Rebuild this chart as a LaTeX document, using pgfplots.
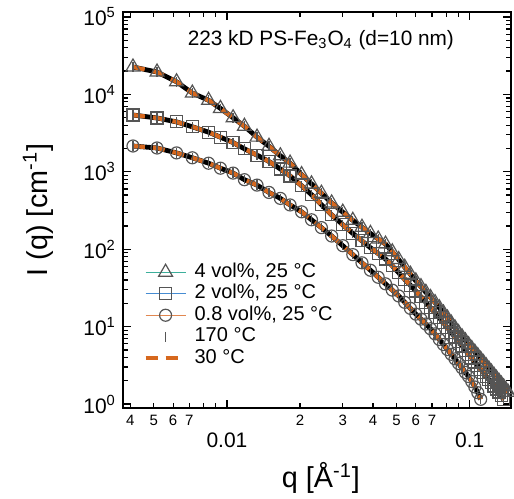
\documentclass[border=0pt]{standalone}
\usepackage{fontspec}
\setmainfont{Liberation Sans}
\usepackage{pgfplots}
\usepackage{pgfplotstable}
\pgfplotsset{compat=1.18}

\definecolor{tealc}{RGB}{60,175,155}
\definecolor{bluec}{RGB}{70,140,210}
\definecolor{orc}{RGB}{225,135,80}
\definecolor{dashc}{RGB}{214,104,30}
\definecolor{mk}{RGB}{85,85,85}

% 4 vol%
\pgfplotstableread{
q I
0.0041 22600
0.00515 19460
0.0062 14550
0.0072 10400
0.0084 8390
0.0094 6590
0.0106 4990
0.0118 3873
0.0133 2806
0.0149 2135
0.0166 1610
0.0182 1295
0.0203 920
0.0223 698
0.0245 529
0.027 396
0.030 301
0.033 236
0.036 192
0.039 160
0.042 135.5
0.045 116.4
0.048 92.5
0.051 73.4
0.054 58.5
0.057 47.5
0.060 38.9
0.063 32.8
0.066 27.7
0.069 23.7
0.072 20.4
0.075 17.5
0.078 15.0
0.081 12.9
0.084 11.1
0.087 9.62
0.090 8.36
0.093 7.38
0.096 6.56
0.099 5.83
0.102 5.21
0.105 4.67
0.108 4.21
0.111 3.79
0.114 3.43
0.117 3.11
0.120 2.83
0.123 2.58
0.126 2.35
0.129 2.15
0.132 1.97
0.135 1.81
0.138 1.67
0.141 1.53
0.144 1.42
}\tabT
% 2 vol%
\pgfplotstableread{
q I
0.0041 5420
0.00515 4955
0.0062 4413
0.0072 3813
0.0084 3250
0.0094 2800
0.0106 2384
0.0118 1983
0.0133 1643
0.0149 1359
0.0166 1087
0.0182 883
0.0203 661
0.0223 507
0.0245 377
0.027 278
0.030 207
0.033 160
0.036 128
0.039 104.5
0.042 87.7
0.045 74.7
0.048 60.9
0.051 49.6
0.054 40.8
0.057 34.2
0.060 28.8
0.063 24.3
0.066 20.6
0.069 17.6
0.072 15.1
0.075 13.0
0.078 11.2
0.081 9.65
0.084 8.39
0.087 7.32
0.090 6.40
0.093 5.63
0.096 4.97
0.099 4.41
0.102 3.92
0.105 3.49
0.108 3.13
0.111 2.81
0.114 2.53
0.117 2.28
0.120 2.07
0.123 1.88
0.126 1.71
0.129 1.56
0.132 1.43
0.135 1.28
0.138 1.14
}\tabS
% 0.8 vol%
\pgfplotstableread{
q I
0.0041 2154
0.00515 2030
0.0062 1754
0.0072 1517
0.0084 1291
0.0094 1113
0.0106 962
0.0118 791
0.0133 673
0.0149 541
0.0166 453
0.0182 373
0.0203 304
0.0223 240
0.0245 190
0.027 148
0.030 111
0.033 85.1
0.036 66.7
0.039 53.5
0.042 43.4
0.045 35.7
0.048 29.6
0.051 24.9
0.054 20.6
0.057 17.2
0.060 14.5
0.063 12.5
0.066 10.8
0.069 9.37
0.072 8.05
0.075 6.83
0.078 5.87
0.081 5.06
0.084 4.39
0.087 3.83
0.090 3.34
0.093 2.93
0.096 2.56
0.099 2.26
0.102 1.95
0.105 1.66
0.108 1.40
0.111 1.15
}\tabC

\begin{document}
\begin{tikzpicture}
\begin{axis}[
  name=ax,
  scale only axis,
  width=194pt, height=198pt,
  xmode=log, ymode=log,
  xmin=0.00373, xmax=0.148,
  ymin=0.888, ymax=116000,
  axis line style={line width=0.7pt},
  every tick/.style={line width=0.6pt, black},
  major tick length=4pt, minor tick length=2.3pt,
  tick align=inside,
  xtick={0.01,0.1},
  xticklabels={0.01,0.1},
  xticklabel style={font=\fontsize{10.5}{12}\selectfont, yshift=-9pt},
  minor xtick={0.004,0.005,0.006,0.007,0.008,0.009,0.02,0.03,0.04,0.05,0.06,0.07,0.08,0.09},
  extra x ticks={0.004,0.005,0.006,0.007,0.02,0.03,0.04,0.05,0.06,0.07},
  extra x tick labels={4,5,6,7,2,3,4,5,6,7},
  extra x tick style={major tick length=2.3pt, xticklabel style={font=\fontsize{7.5}{9}\selectfont, yshift=9pt}},
  ytick={1,10,100,1000,10000,100000},
  yticklabels={10\textsuperscript{0},10\textsuperscript{1},10\textsuperscript{2},10\textsuperscript{3},10\textsuperscript{4},10\textsuperscript{5}},
  yticklabel style={font=\fontsize{10.5}{12}\selectfont},
  minor ytick={2,3,4,5,6,7,8,9,20,30,40,50,60,70,80,90,200,300,400,500,600,700,800,900,2000,3000,4000,5000,6000,7000,8000,9000,20000,30000,40000,50000,60000,70000,80000,90000},
  xlabel={q [Å\textsuperscript{-1}]},
  ylabel={I (q) [cm\textsuperscript{-1}]},
  xlabel style={font=\fontsize{14.4}{17}\selectfont, at={(axis description cs:0.51,-0.177)}, anchor=center},
  ylabel style={font=\fontsize{14.4}{17}\selectfont, at={(axis description cs:-0.219,0.5)}, anchor=center},
  legend cell align=left,
  legend style={draw=none, fill=none, at={(axis description cs:0.052,0.371)}, anchor=north west,
    font=\fontsize{10}{12}\selectfont, inner sep=0pt, row sep=0pt, column sep=3pt,
    nodes={inner sep=0.5pt, text height=7.5pt, text depth=2.25pt}},
]
% 25 C markers
\addplot[tealc, line width=0.7pt, mark=triangle, mark size=4pt, mark options={draw=mk, fill=white, line width=0.6pt},
  legend image code/.code={\draw[tealc, line width=0.7pt] (0cm,0cm) -- (0.7cm,0cm);
    \draw[mk, fill=white, line width=0.6pt] plot[mark=triangle, mark size=4pt] coordinates {(0.35cm,0cm)};}] table[x=q,y=I] {\tabT};
\addlegendentry{4 vol\%, 25 °C}
\addplot[bluec, line width=0.7pt, mark=square, mark size=3pt, mark options={draw=mk, fill=white, line width=0.6pt},
  legend image code/.code={\draw[bluec, line width=0.7pt] (0cm,0cm) -- (0.7cm,0cm);
    \draw[mk, fill=white, line width=0.6pt] plot[mark=square, mark size=3pt] coordinates {(0.35cm,0cm)};}] table[x=q,y=I] {\tabS};
\addlegendentry{2 vol\%, 25 °C}
\addplot[orc, line width=0.7pt, mark=o, mark size=3pt, mark options={draw=mk, fill=white, line width=0.6pt},
  legend image code/.code={\draw[orc, line width=0.7pt] (0cm,0cm) -- (0.7cm,0cm);
    \draw[mk, fill=white, line width=0.6pt] plot[mark=o, mark size=3pt] coordinates {(0.35cm,0cm)};}] table[x=q,y=I] {\tabC};
\addlegendentry{0.8 vol\%, 25 °C}
% 170 C
\addplot[black, line width=2.4pt, forget plot] table[x=q,y=I] {\tabT};
\addplot[black, line width=2.4pt, forget plot] table[x=q,y=I] {\tabS};
\addplot[black, line width=2.4pt, forget plot] table[x=q,y=I] {\tabC};
\addplot[only marks, mark=|, mark size=2.4pt, mark options={draw=mk, line width=0.6pt},
  legend image code/.code={\draw[mk, line width=0.6pt] plot[mark=|, mark size=2.4pt] coordinates {(0.35cm,0cm)};}] table[x=q,y=I] {\tabT};
\addlegendentry{170 °C}
\addplot[only marks, mark=|, mark size=2.4pt, mark options={draw=mk, line width=0.6pt}, forget plot] table[x=q,y=I] {\tabS};
\addplot[only marks, mark=|, mark size=2.4pt, mark options={draw=mk, line width=0.6pt}, forget plot] table[x=q,y=I] {\tabC};
% 30 C
\addplot[dashc, line width=2.1pt, dash pattern=on 6pt off 4pt,
  legend image code/.code={\draw[dashc, line width=2.1pt, dash pattern=on 6pt off 4pt] (0cm,0cm) -- (0.7cm,0cm);}] table[x=q,y=I] {\tabT};
\addlegendentry{30 °C}
\addplot[dashc, line width=2.1pt, dash pattern=on 6pt off 4pt, forget plot] table[x=q,y=I] {\tabS};
\addplot[dashc, line width=2.1pt, dash pattern=on 6pt off 4pt, forget plot] table[x=q,y=I] {\tabC};
\node[font=\fontsize{10.4}{12}\selectfont] at (rel axis cs:0.51,0.929) {223 kD PS-Fe\textsubscript{3}O\textsubscript{4} (d=10 nm)};
\end{axis}
\pgfresetboundingbox
\path[use as bounding box] ([shift={(-61.5pt,-45pt)}]ax.south west) rectangle ([shift={(1.5pt,6pt)}]ax.north east);
\end{tikzpicture}
\end{document}
